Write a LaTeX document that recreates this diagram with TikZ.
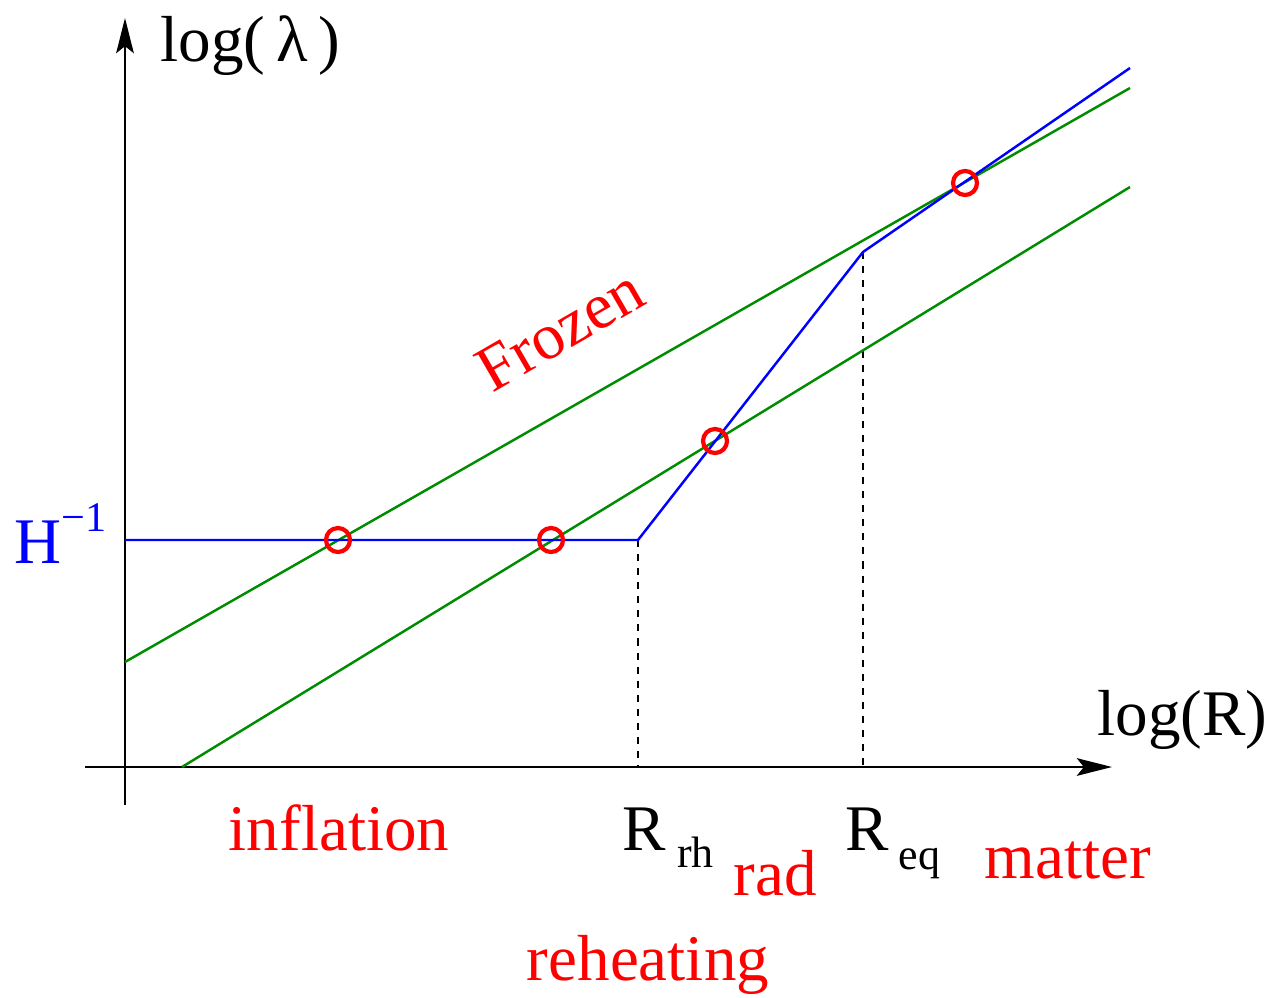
\documentclass[tikz,border=0pt]{standalone}
\usepackage{fontspec}
\setmainfont{Liberation Serif}
\usetikzlibrary{arrows.meta}
\definecolor{dgreen}{RGB}{0,140,0}
\begin{document}
\begin{tikzpicture}[x=0.01cm,y=-0.01cm,
  lbl/.style={inner sep=0pt,font=\fontsize{18.5}{20}\selectfont},
  rlbl/.style={lbl,text=red},
  axis/.style={line width=0.75pt,-{Stealth[length=10pt,width=5pt,inset=2pt]}},
  bline/.style={blue,line width=0.7pt},
  gline/.style={dgreen,line width=0.7pt},
  guide/.style={line width=0.3pt,dash pattern=on 2pt off 2pt},
  mark circle/.style={draw=red,line width=1.2pt,circle,inner sep=0pt,minimum size=0.24cm}
]
\useasboundingbox (0,0) rectangle (1270,997);
% axes
\coordinate (ybot) at (125,805);
\coordinate (ytop) at (125,18);
\coordinate (xl) at (85,767);
\coordinate (xr) at (1112,767);
\draw[axis] (ybot) -- (ytop);
\draw[axis] (xl) -- (xr);
% key points
\coordinate (b0) at (125,540);
\coordinate (brh) at (638,540);
\coordinate (beq) at (863,252);
\coordinate (bend) at (1130,68);
\coordinate (g1a) at (125,662);
\coordinate (g1b) at (1130,88);
\coordinate (g2a) at (182,767);
\coordinate (g2b) at (1130,187);
\coordinate (rhax) at (638,767);
\coordinate (eqax) at (863,767);
% dashed guides
\draw[guide] (brh) -- (rhax);
\draw[guide] (beq) -- (eqax);
% green lines
\draw[gline] (g1a) -- (g1b);
\draw[gline] (g2a) -- (g2b);
% blue curve
\draw[bline] (b0) -- (brh) -- (beq) -- (bend);
% circles
\node[mark circle] (c1) at (338,540) {};
\node[mark circle] (c2) at (551,540) {};
\node[mark circle] (c3) at (715,441) {};
\node[mark circle] (c4) at (965,183) {};
% labels
\node[lbl,anchor=base west] (ylab) at (160,62) {log(\,λ\,)};
\node[lbl,anchor=base west] (xlab) at (1097,735) {log(R)};
\node[lbl,anchor=base west,text=blue] (hlab) at (14,563) {H\raisebox{1.05ex}{\fontsize{12}{12}\selectfont −1}};
\node[rlbl,anchor=base] (infl) at (339,850) {inflation};
\node[lbl,anchor=base west] (rrh) at (622,850) {R\hspace{0.17em}\raisebox{-0.6ex}{\fontsize{12.5}{13}\selectfont rh}};
\node[rlbl,anchor=base] (rad) at (775,895) {rad};
\node[lbl,anchor=base west] (req) at (845,850) {R\hspace{0.15em}\raisebox{-0.65ex}{\fontsize{12.5}{13}\selectfont eq}};
\node[rlbl,anchor=base] (matter) at (1068,878) {matter};
\node[rlbl,anchor=base] (reh) at (648,980) {reheating};
\node[rlbl,rotate=30] (frozen) at (560,330) {Frozen};
\end{tikzpicture}
\end{document}
